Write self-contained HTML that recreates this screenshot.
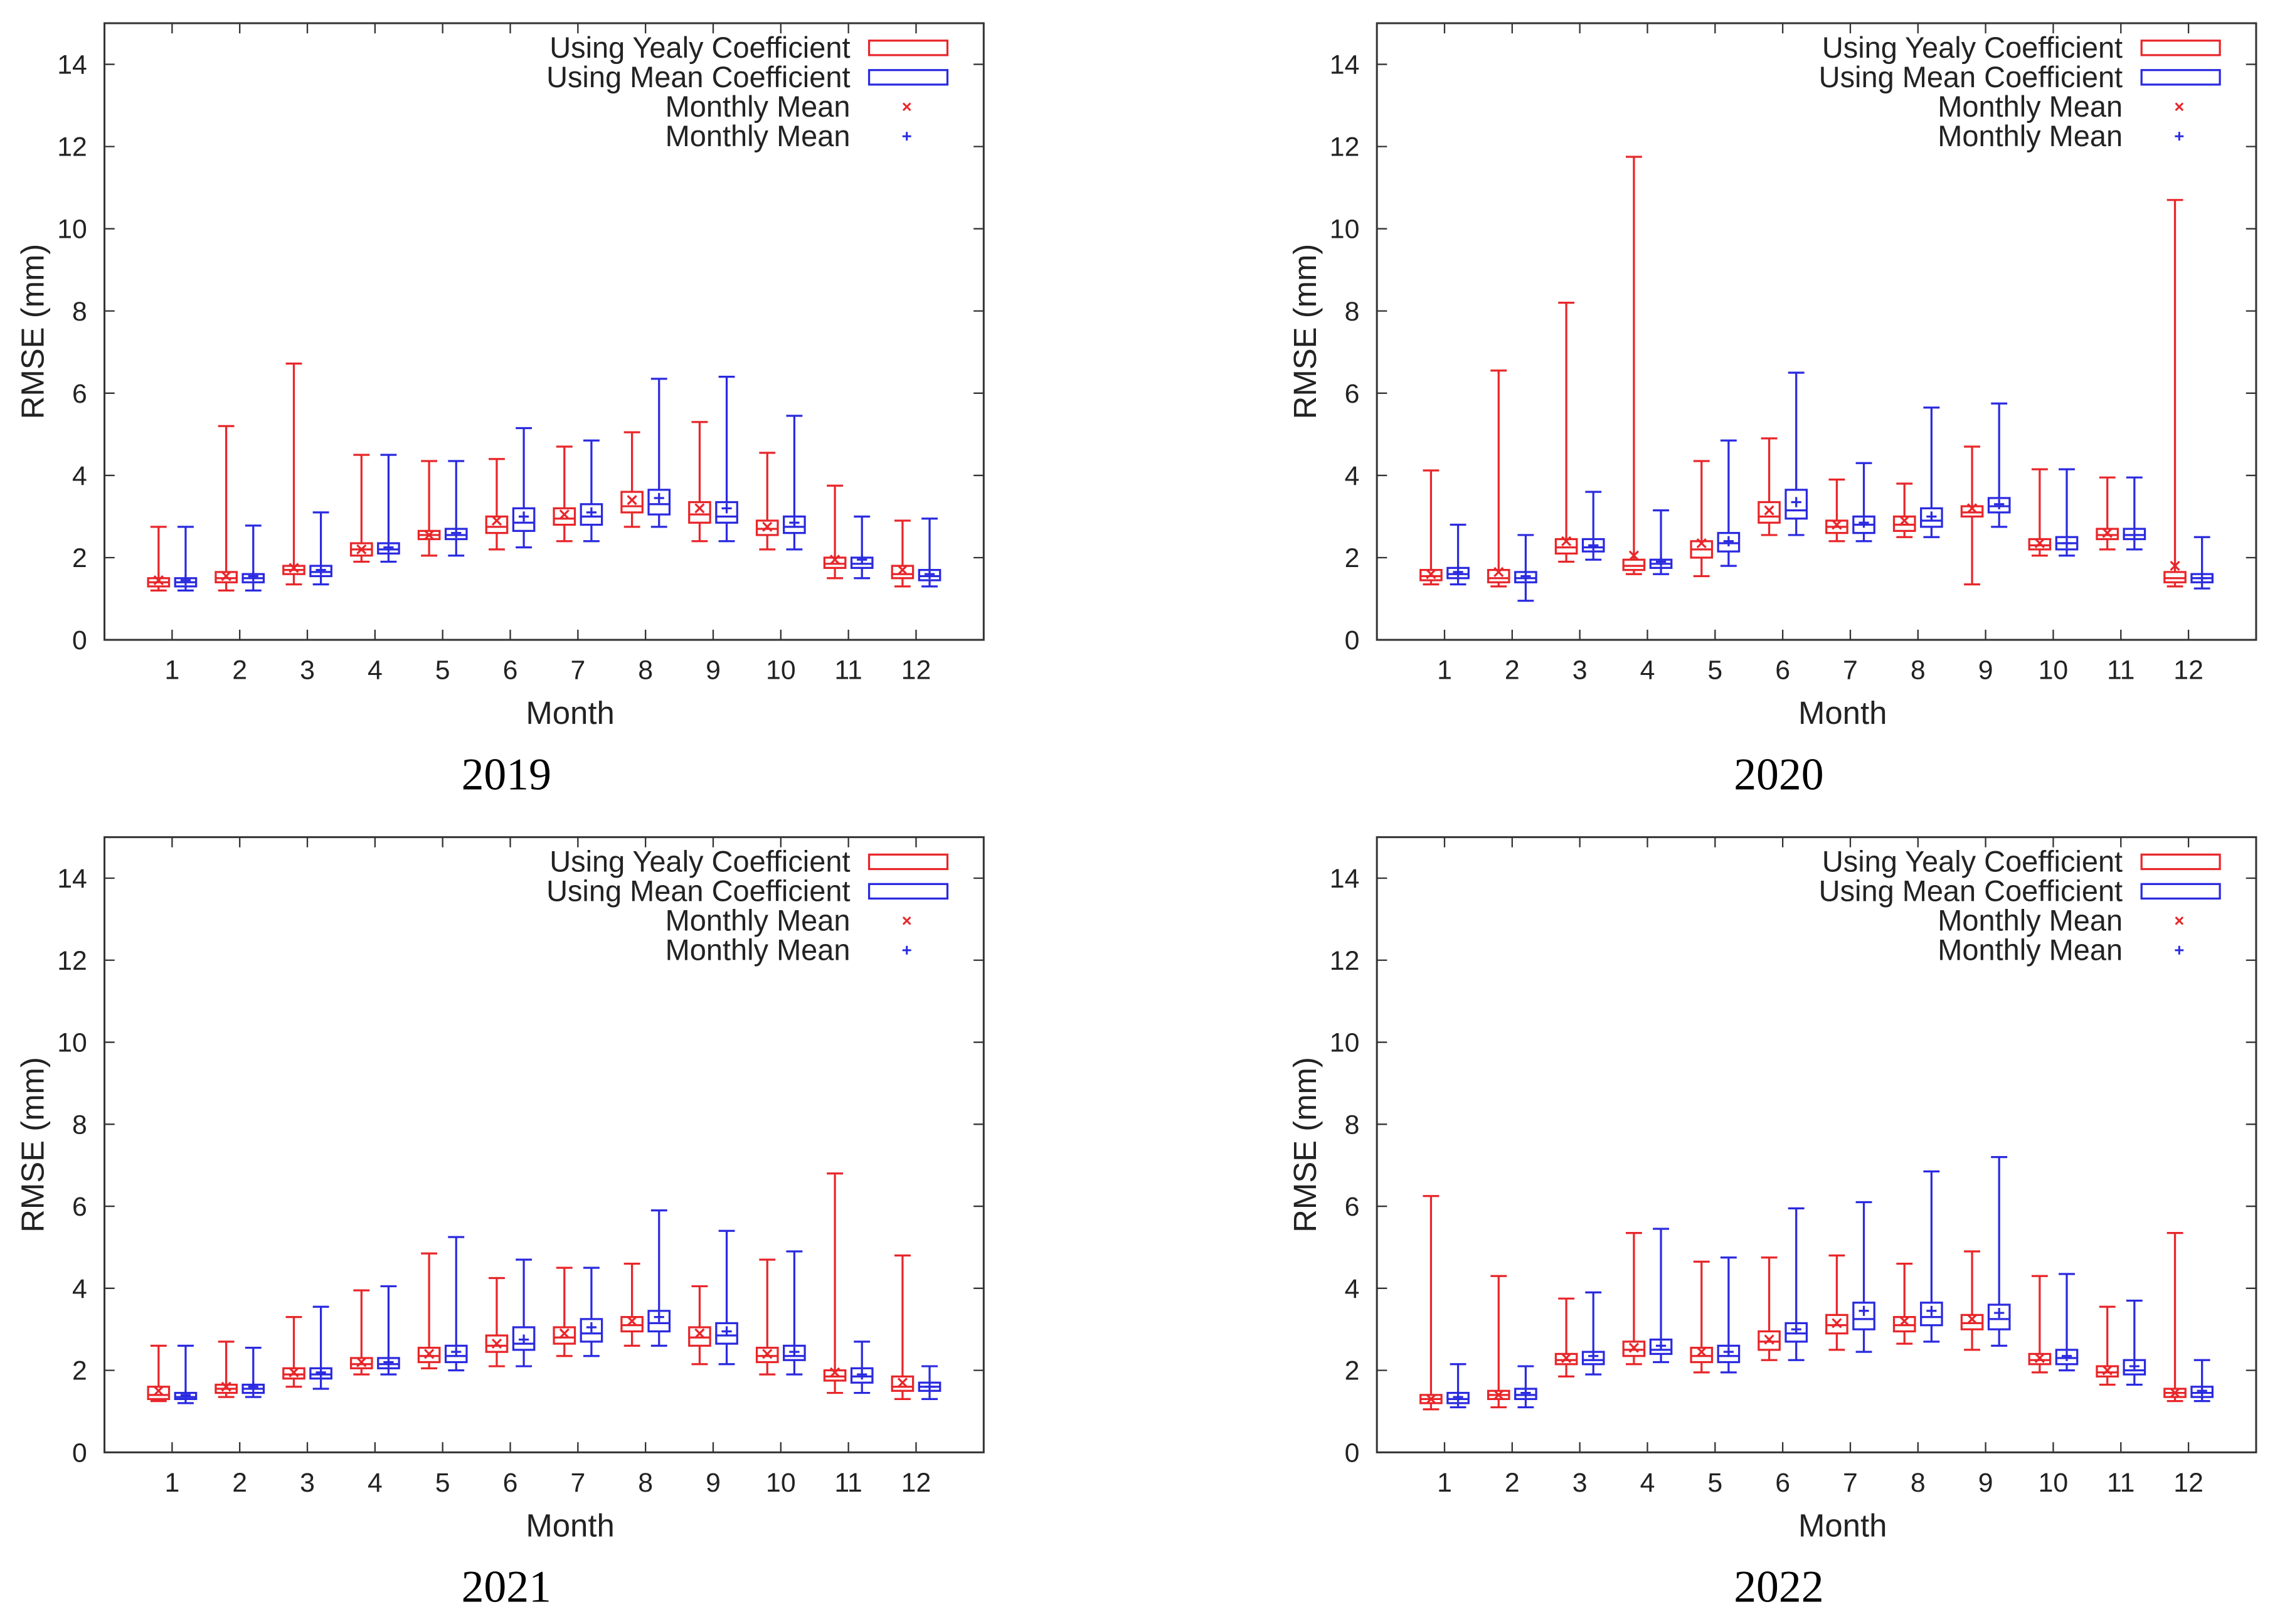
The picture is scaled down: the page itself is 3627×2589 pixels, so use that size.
<!DOCTYPE html>
<html><head><meta charset="utf-8"><style>
html,body{margin:0;padding:0;background:#fff;}
svg{display:block;}
text{font-family:"Liberation Sans",sans-serif;}
</style></head>
<body>
<svg id="chart" xmlns="http://www.w3.org/2000/svg" width="3627" height="2589" viewBox="0 0 1568 1119.3" preserveAspectRatio="none"></svg>
<script>
// data: [min, q1, median, q3, max, mean] per month
const months = [1,2,3,4,5,6,7,8,9,10,11,12];
const years = ["2019","2020","2021","2022"];
const yTicks = [0,2,4,6,8,10,12,14];
const red2019 = [[1.2,1.3,1.4,1.5,2.75,1.45],[1.2,1.4,1.5,1.65,5.2,1.55],[1.35,1.6,1.7,1.8,6.72,1.75],[1.9,2.05,2.2,2.35,4.5,2.2],[2.05,2.45,2.55,2.65,4.35,2.55],[2.2,2.6,2.75,3.0,4.4,2.9],[2.4,2.8,2.95,3.2,4.7,3.05],[2.75,3.1,3.25,3.6,5.05,3.4],[2.4,2.85,3.05,3.35,5.3,3.2],[2.2,2.55,2.7,2.9,4.55,2.75],[1.5,1.75,1.85,2.0,3.75,1.95],[1.3,1.5,1.6,1.8,2.9,1.7]];
const blue2019 = [[1.2,1.3,1.4,1.5,2.75,1.45],[1.2,1.4,1.5,1.6,2.78,1.55],[1.35,1.55,1.65,1.8,3.1,1.7],[1.9,2.1,2.2,2.35,4.5,2.25],[2.05,2.45,2.55,2.7,4.35,2.6],[2.25,2.65,2.85,3.2,5.15,3.0],[2.4,2.8,3.0,3.3,4.85,3.1],[2.75,3.05,3.3,3.65,6.35,3.45],[2.4,2.85,3.0,3.35,6.4,3.2],[2.2,2.6,2.75,3.0,5.45,2.85],[1.5,1.75,1.85,2.0,3.0,1.95],[1.3,1.45,1.55,1.7,2.95,1.6]];
const red2020 = [[1.35,1.45,1.55,1.7,4.12,1.6],[1.3,1.4,1.5,1.7,6.55,1.65],[1.9,2.1,2.25,2.45,8.2,2.4],[1.6,1.7,1.8,1.95,11.75,2.05],[1.55,2.0,2.2,2.4,4.35,2.35],[2.55,2.85,3.0,3.35,4.9,3.15],[2.4,2.6,2.75,2.9,3.9,2.8],[2.5,2.65,2.8,3.0,3.8,2.9],[1.35,3.0,3.1,3.25,4.7,3.2],[2.05,2.2,2.3,2.45,4.15,2.35],[2.2,2.45,2.55,2.7,3.95,2.6],[1.3,1.4,1.5,1.65,10.7,1.8]];
const blue2020 = [[1.35,1.5,1.6,1.75,2.8,1.65],[0.95,1.4,1.5,1.65,2.55,1.55],[1.95,2.15,2.25,2.45,3.6,2.3],[1.6,1.75,1.85,1.95,3.15,1.9],[1.8,2.15,2.35,2.6,4.85,2.4],[2.55,2.95,3.15,3.65,6.5,3.35],[2.4,2.6,2.8,3.0,4.3,2.85],[2.5,2.75,2.9,3.2,5.65,3.0],[2.75,3.1,3.25,3.45,5.75,3.3],[2.05,2.2,2.35,2.5,4.15,2.35],[2.2,2.45,2.55,2.7,3.95,2.55],[1.25,1.4,1.5,1.6,2.5,1.5]];
const red2021 = [[1.25,1.3,1.4,1.6,2.6,1.5],[1.35,1.45,1.55,1.65,2.7,1.6],[1.6,1.8,1.9,2.05,3.3,1.95],[1.9,2.05,2.15,2.3,3.95,2.2],[2.05,2.2,2.35,2.55,4.85,2.4],[2.1,2.45,2.6,2.85,4.25,2.65],[2.35,2.65,2.8,3.05,4.5,2.9],[2.6,2.95,3.1,3.3,4.6,3.2],[2.15,2.6,2.8,3.05,4.05,2.9],[1.9,2.2,2.35,2.55,4.7,2.4],[1.45,1.75,1.85,2.0,6.8,1.95],[1.3,1.5,1.6,1.85,4.8,1.7]];
const blue2021 = [[1.2,1.3,1.35,1.45,2.6,1.4],[1.35,1.45,1.55,1.65,2.55,1.6],[1.55,1.8,1.9,2.05,3.55,1.95],[1.9,2.05,2.15,2.3,4.05,2.2],[2.0,2.2,2.35,2.6,5.25,2.45],[2.1,2.5,2.65,3.05,4.7,2.75],[2.35,2.7,2.9,3.25,4.5,3.05],[2.6,2.95,3.15,3.45,5.9,3.3],[2.15,2.65,2.85,3.15,5.4,2.95],[1.9,2.25,2.35,2.6,4.9,2.45],[1.45,1.7,1.85,2.05,2.7,1.9],[1.3,1.5,1.6,1.7,2.1,1.6]];
const red2022 = [[1.05,1.2,1.3,1.4,6.25,1.3],[1.1,1.3,1.4,1.5,4.3,1.4],[1.85,2.15,2.25,2.4,3.75,2.3],[2.15,2.35,2.5,2.7,5.35,2.55],[1.95,2.2,2.35,2.55,4.65,2.45],[2.25,2.5,2.7,2.95,4.75,2.75],[2.5,2.9,3.1,3.35,4.8,3.15],[2.65,2.95,3.1,3.3,4.6,3.2],[2.5,3.0,3.15,3.35,4.9,3.25],[1.95,2.15,2.25,2.4,4.3,2.3],[1.65,1.85,1.95,2.1,3.55,2.0],[1.25,1.35,1.45,1.55,5.35,1.45]];
const blue2022 = [[1.1,1.2,1.3,1.45,2.15,1.35],[1.1,1.3,1.4,1.55,2.1,1.45],[1.9,2.15,2.25,2.45,3.9,2.35],[2.2,2.4,2.5,2.75,5.45,2.6],[1.95,2.2,2.35,2.6,4.75,2.45],[2.25,2.7,2.9,3.15,5.95,3.0],[2.45,3.0,3.25,3.65,6.1,3.45],[2.7,3.1,3.3,3.65,6.85,3.45],[2.6,3.0,3.25,3.6,7.2,3.4],[2.0,2.15,2.3,2.5,4.35,2.35],[1.65,1.9,2.0,2.25,3.7,2.1],[1.25,1.35,1.45,1.6,2.25,1.5]];
const redSets = [red2019, red2020, red2021, red2022];
const blueSets = [blue2019, blue2020, blue2021, blue2022];

const NS = "http://www.w3.org/2000/svg";
const svg = document.getElementById('chart');
const RED = "#e8262a", BLUE = "#2a2ae0";
function mk(tag, attrs, parent){
  const e = document.createElementNS(NS, tag);
  for (const k in attrs) e.setAttribute(k, attrs[k]);
  (parent||svg).appendChild(e);
  return e;
}
const panels = [{l:72,t:16,b:441},{l:949,t:16,b:441},{l:72,t:577,b:1001},{l:949,t:577,b:1001}];
const W = 606;

panels.forEach((p, pi) => {
  const g = mk('g', {});
  
  
  const sx = v => p.l + v / 13 * W;
  const sy = v => p.b - v / 15 * (p.b - p.t);
  const fr = mk('rect', {x:p.l, y:p.t, width:W, height:p.b-p.t, fill:'none', stroke:'#333', 'stroke-width':1.3}, g);
  
  
  yTicks.forEach(v => {
    mk('line', {x1:p.l, x2:p.l+7, y1:sy(v), y2:sy(v), stroke:'#333', 'stroke-width':1}, g);
    mk('line', {x1:p.l+W, x2:p.l+W-7, y1:sy(v), y2:sy(v), stroke:'#333', 'stroke-width':1}, g);
    const t = mk('text', {x:p.l-12, y:sy(v)+6.5, 'text-anchor':'end', 'font-size':18.5, fill:'#222'}, g);
    t.textContent = v;
    
    
  });
  months.forEach(m => {
    mk('line', {x1:sx(m), x2:sx(m), y1:p.b, y2:p.b-7, stroke:'#333', 'stroke-width':1}, g);
    mk('line', {x1:sx(m), x2:sx(m), y1:p.t, y2:p.t+7, stroke:'#333', 'stroke-width':1}, g);
    const t = mk('text', {x:sx(m), y:p.b+27, 'text-anchor':'middle', 'font-size':18.5, fill:'#222'}, g);
    t.textContent = m;
    
    
  });
  const yt = mk('text', {x:0, y:0, transform:`translate(${p.l-42},${(p.t+p.b)/2}) rotate(-90)`, 'text-anchor':'middle', 'font-size':22, fill:'#222'}, g);
  yt.textContent = 'RMSE (mm)';
  
  
  const xt = mk('text', {x:p.l+321, y:p.b+58, 'text-anchor':'middle', 'font-size':22, fill:'#222'}, g);
  xt.textContent = 'Month';
  
  
  const yr = mk('text', {x:p.l+277, y:p.b+103, 'text-anchor':'middle', 'font-size':31, fill:'#000', style:'font-family:"Liberation Serif",serif'}, g);
  yr.textContent = years[pi];
  
  
  const hw = 0.155, cap = 0.12;
  [[redSets[pi], -0.2, RED, 'red'], [blueSets[pi], 0.2, BLUE, 'blue']].forEach(([set, off, col, nm]) => {
    set.forEach((d, i) => {
      const c = months[i] + off;
      const bg = mk('g', {stroke:col, fill:'none', 'stroke-width':1.4}, g);
      
      
      mk('line', {x1:sx(c), x2:sx(c), y1:sy(d[3]), y2:sy(d[4])}, bg);
      mk('line', {x1:sx(c), x2:sx(c), y1:sy(d[0]), y2:sy(d[1])}, bg);
      mk('line', {x1:sx(c-cap), x2:sx(c+cap), y1:sy(d[4]), y2:sy(d[4])}, bg);
      mk('line', {x1:sx(c-cap), x2:sx(c+cap), y1:sy(d[0]), y2:sy(d[0])}, bg);
      mk('rect', {x:sx(c-hw), y:sy(d[3]), width:sx(c+hw)-sx(c-hw), height:sy(d[1])-sy(d[3])}, bg);
      mk('line', {x1:sx(c-hw), x2:sx(c+hw), y1:sy(d[2]), y2:sy(d[2])}, bg);
      const mx = sx(c), my = sy(d[5]);
      if (nm === 'red') {
        mk('path', {d:`M${mx-3} ${my-3}L${mx+3} ${my+3}M${mx-3} ${my+3}L${mx+3} ${my-3}`}, bg);
      } else {
        mk('path', {d:`M${mx-3.5} ${my}L${mx+3.5} ${my}M${mx} ${my-3.5}L${mx} ${my+3.5}`}, bg);
      }
    });
  });
  const lg = mk('g', {}, g);
  
  
  const labels = ['Using Yealy Coefficient','Using Mean Coefficient','Monthly Mean','Monthly Mean'];
  labels.forEach((s, k) => {
    const y = p.t + 17 + k * 20.3;
    const t = mk('text', {x:p.l+514, y:y+6.8, 'text-anchor':'end', 'font-size':20.3, fill:'#222'}, lg);
    t.textContent = s;
    
    
    const col = (k % 2 === 0) ? RED : BLUE;
    if (k < 2) {
      mk('rect', {x:p.l+527, y:y-5, width:54, height:10, fill:'none', stroke:col, 'stroke-width':1.4}, lg);
    } else {
      const mx = p.l+553, my = y;
      if (k === 2) mk('path', {d:`M${mx-2.5} ${my-2.5}L${mx+2.5} ${my+2.5}M${mx-2.5} ${my+2.5}L${mx+2.5} ${my-2.5}`, stroke:col, 'stroke-width':1.3}, lg);
      else mk('path', {d:`M${mx-3} ${my}L${mx+3} ${my}M${mx} ${my-3}L${mx} ${my+3}`, stroke:col, 'stroke-width':1.3}, lg);
    }
  });
});
</script>
</body></html>
